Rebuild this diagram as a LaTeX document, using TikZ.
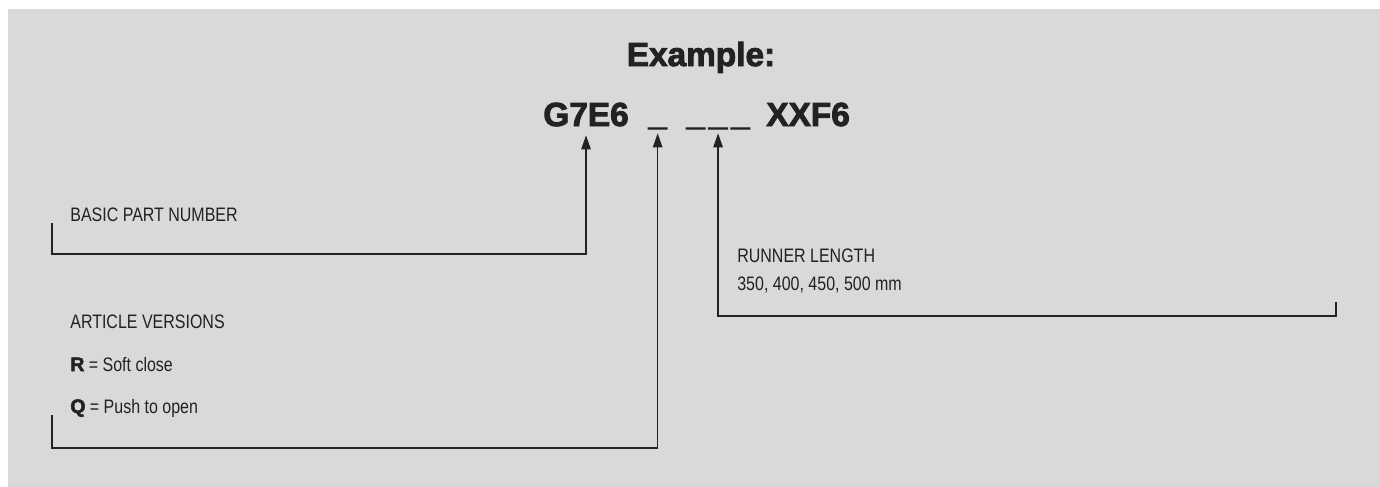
\documentclass[tikz,border=0pt]{standalone}
\usepackage{fontspec}
\setmainfont{Liberation Sans}
\newfontfamily\narrowfont[FakeStretch=0.82]{Liberation Sans}
\newfontfamily\heavyfont[FakeBold=2.6]{Liberation Sans Bold}
\usepackage{xcolor}
\usetikzlibrary{arrows.meta}
\definecolor{panelgray}{HTML}{D9D9D9}
\definecolor{inkgray}{HTML}{222222}

\begin{document}
\begin{tikzpicture}[
      x=0.02cm, y=-0.02cm,
      arr/.style={-{Triangle[length=8pt, width=5.4pt]}, line width=0.75pt, inkgray},
      lbl/.style={anchor=base west, inner sep=0pt, text=inkgray,
          font=\narrowfont\fontsize{11.1}{13}\selectfont},
      codenode/.style={anchor=base west, inner xsep=0pt, inner ysep=5.1pt,
          text depth=0pt, text=inkgray, font=\heavyfont\fontsize{19}{22}\selectfont},
    ]

    %% ── PANEL ───────────────────────────────────────────────────────────────
    \useasboundingbox (0,0) rectangle (1380,487);
    \fill[panelgray] (8,9) rectangle (1380,487);

    %% ── TITLE & CODE ────────────────────────────────────────────────────────
    \node[codenode, anchor=base] at (701,66) (title) {Example:};
    \node[codenode] at (543,126) (code) {G7E6};
    \node[codenode] at (648,125) (ver) {\_};
    \node[codenode] at (686,125) (len) {\_\kern2.2pt\_\kern2.2pt\_};
    \node[codenode] at (766,126) (suffix) {XXF6};

    %% ── LABELS ──────────────────────────────────────────────────────────────
    \node[lbl] at (70,221) (basic) {BASIC PART NUMBER};

    \node[lbl] at (70,328) (versions) {ARTICLE VERSIONS};
    \node[lbl] at (70,371) (soft) {{\heavyfont R} = Soft close};
    \node[lbl] at (70,413) (push) {{\heavyfont Q} = Push to open};

    \node[lbl] at (737,262) (runner) {RUNNER LENGTH};
    \node[lbl] at (737,290) (sizes) {350, 400, 450, 500 mm};

    %% ── ARROWS ──────────────────────────────────────────────────────────────
    \coordinate (b1) at (52,223);
    \coordinate (b2) at (52,415);
    \coordinate (b3) at (1336,302);
    \draw[arr] (b1) -- ++(0,31) -| (code.south);
    \draw[arr] (b2) -- ++(0,33) -| ([yshift=0.02cm]ver.south);
    \draw[arr] (b3) -- ++(0,14) -| ([yshift=0.02cm]len.south);

  \end{tikzpicture}
\end{document}
